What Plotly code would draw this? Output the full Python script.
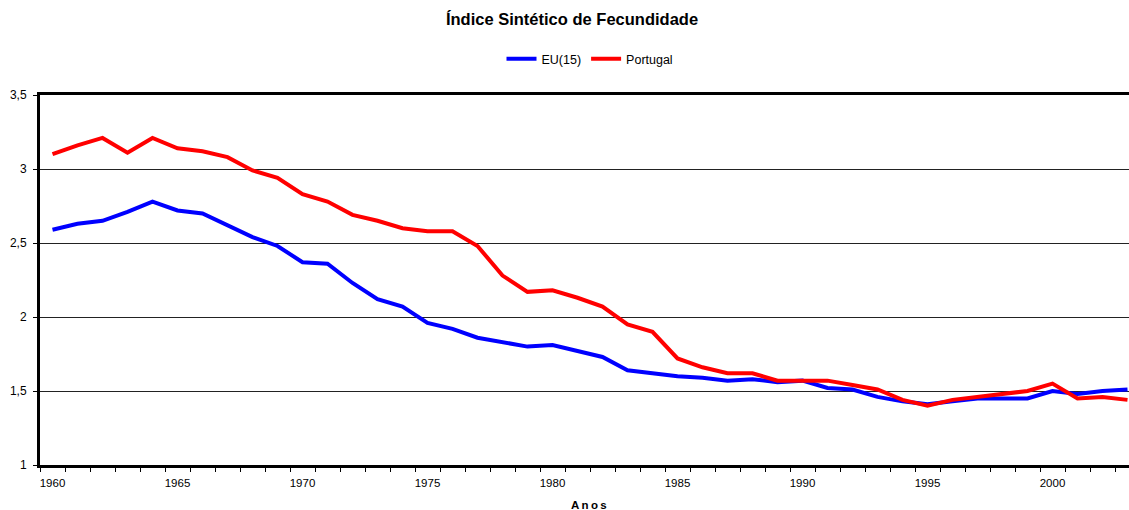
import plotly.graph_objects as go

# Total fertility rate, 1960-2003
years = list(range(1960, 2004))

eu15 = [2.59, 2.63, 2.65, 2.71, 2.78, 2.72, 2.70, 2.62, 2.54, 2.48,
        2.37, 2.36, 2.23, 2.12, 2.07, 1.96, 1.92, 1.86, 1.83, 1.80,
        1.81, 1.77, 1.73, 1.64, 1.62, 1.60, 1.59, 1.57, 1.58, 1.56,
        1.57, 1.52, 1.51, 1.46, 1.43, 1.41, 1.43, 1.45, 1.45, 1.45,
        1.50, 1.48, 1.50, 1.51]

portugal = [3.10, 3.16, 3.21, 3.11, 3.21, 3.14, 3.12, 3.08, 2.99, 2.94,
            2.83, 2.78, 2.69, 2.65, 2.60, 2.58, 2.58, 2.48, 2.28, 2.17,
            2.18, 2.13, 2.07, 1.95, 1.90, 1.72, 1.66, 1.62, 1.62, 1.57,
            1.57, 1.57, 1.54, 1.51, 1.44, 1.40, 1.44, 1.46, 1.48, 1.50,
            1.55, 1.45, 1.46, 1.44]

label_years = [1960, 1965, 1970, 1975, 1980, 1985, 1990, 1995, 2000]
y_ticks = [1, 1.5, 2, 2.5, 3, 3.5]

FONT = "Liberation Sans, Arial, sans-serif"

fig = go.Figure()
fig.add_trace(go.Scatter(x=years, y=eu15, name="EU(15)", mode="lines",
                         line=dict(color="#0000FF", width=4)))
fig.add_trace(go.Scatter(x=years, y=portugal, name="Portugal", mode="lines",
                         line=dict(color="#FF0000", width=4)))

W, H = 1129, 510
L, T, B = 40, 95, 45
px_per_year = 25.0
x0 = 1959.5
x1 = x0 + (W - L) / px_per_year

fig.update_layout(
    width=W, height=H,
    margin=dict(l=L, r=0, t=T, b=B, pad=0),
    paper_bgcolor="white", plot_bgcolor="white",
    separators=",.",
    font=dict(family=FONT, size=11, color="black"),
    title=dict(text="<b>Índice Sintético de Fecundidade</b>",
               x=572 / W, xref="container", xanchor="center",
               y=1 - 19 / H, yref="container", yanchor="middle",
               font=dict(family=FONT, size=16.5, color="black")),
    legend=dict(orientation="h", x=(590 - L) / (W - L), xanchor="center",
                y=1 + (T - 59) / (H - T - B), yanchor="middle",
                font=dict(family=FONT, size=12.5, color="black"),
                bgcolor="rgba(0,0,0,0)", itemwidth=30,
                tracegroupgap=0),
    showlegend=True,
)

fig.update_xaxes(
    range=[x0, x1], showgrid=False, zeroline=False,
    showline=True, linewidth=3, linecolor="black", mirror=True,
    tickmode="array", tickvals=label_years,
    ticktext=[str(y) for y in label_years],
    ticks="outside", ticklen=5, tickcolor="rgba(0,0,0,0)",
    tickfont=dict(family=FONT, size=11.5, color="black"),
    minor=dict(tick0=1959.5, dtick=1, ticks="outside", ticklen=4,
               tickwidth=1, tickcolor="black", showgrid=False),
)

fig.update_yaxes(
    range=[1, 3.5], zeroline=False,
    showline=True, linewidth=3, linecolor="black", mirror=False,
    tickmode="array", tickvals=y_ticks,
    ticks="outside", ticklen=4, tickwidth=1, tickcolor="black",
    tickfont=dict(family=FONT, size=12, color="black"),
    showgrid=True, gridcolor="#222222", gridwidth=1,
    ticklabelstandoff=4,
)

fig.add_annotation(text="<b>A\u2009n\u2009o\u2009s</b>", xref="paper", yref="paper",
                   x=(589 - L) / (W - L), y=-(505 - (H - B)) / (H - T - B),
                   xanchor="center", yanchor="middle", showarrow=False,
                   font=dict(family=FONT, size=11.5, color="black"))

fig.write_html("out.html")
